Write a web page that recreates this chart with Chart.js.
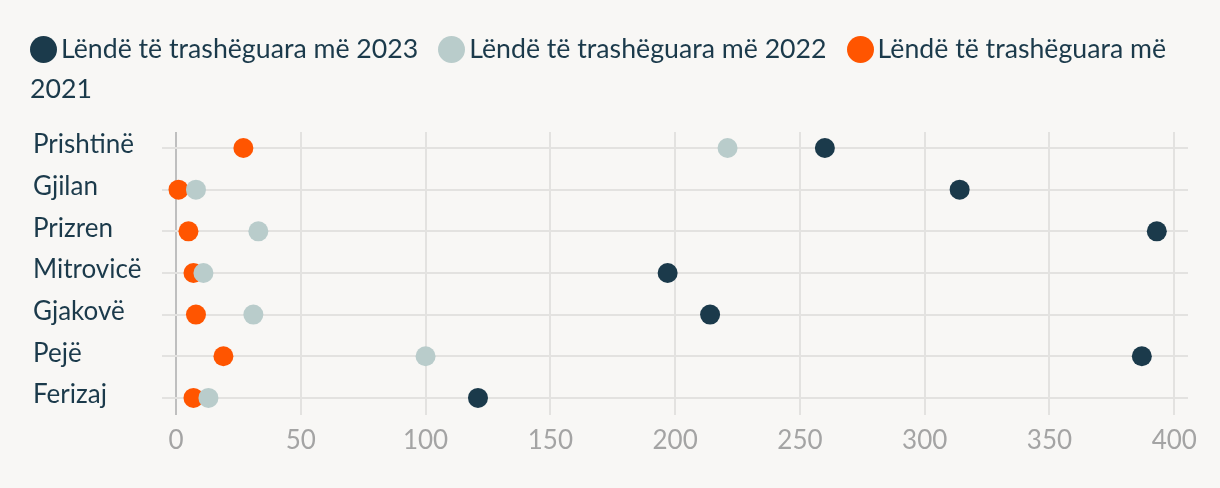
<!DOCTYPE html>
<html>
<head>
<meta charset="utf-8">
<script src="https://cdn.jsdelivr.net/npm/chart.js@4.4.1/dist/chart.umd.min.js"></script>
<style>
  html, body { margin: 0; padding: 0; background: #f8f7f5; }
  #wrap { position: relative; width: 1220px; height: 488px; }
  #legend {
    position: absolute; left: 30px; top: 28px; width: 1168px;
    font-family: Lato, sans-serif; font-size: 26.7px; line-height: 40px; color: #1b3a4b;
  }
  .item { margin-right: 20px; }
  .dot {
    display: inline-block; width: 27px; height: 27px; border-radius: 50%;
    vertical-align: -5px; margin-right: 4px;
  }
  canvas { position: absolute; left: 0; top: 0; }
</style>
</head>
<body>
<div id="wrap">
  <canvas id="chart" width="1220" height="488"></canvas>
  <div id="legend"></div>
</div>
<script>
const categories = ["Prishtinë", "Gjilan", "Prizren", "Mitrovicë", "Gjakovë", "Pejë", "Ferizaj"];

const seriesLabels = ["Lëndë të trashëguara më 2023", "Lëndë të trashëguara më 2022", "Lëndë të trashëguara më 2021"];

const values2023 = [260, 314, 393, 197, 214, 387, 121];

const values2022 = [221, 8, 33, 11, 31, 100, 13];

const values2021 = [27, 1, 5, 7, 8, 19, 7];

const xTicks = [0, 50, 100, 150, 200, 250, 300, 350, 400];

const colors = ["#1b3a4b", "#b9cccb", "#ff5500"];

const textColor = "#1b3a4b";
const gridColor = "#e3e2e0";

function points(values) {
    return values.map((v, i) => ({ x: v, y: i }));
}

const datasets = [values2023, values2022, values2021].map((values, i) => ({
    label: seriesLabels[i],
    data: points(values),
    backgroundColor: colors[i],
    borderWidth: 0,
    pointRadius: 10,
    pointHoverRadius: 10,
    clip: false
}));

const chart = new Chart(document.getElementById("chart"), {
    type: "scatter",
    data: { datasets: datasets },
    options: {
        responsive: false,
        animation: false,
        devicePixelRatio: 1,
        layout: { padding: { left: 33, top: 132, right: 32, bottom: 0 } },
        plugins: { legend: { display: false }, tooltip: { enabled: false } },
        scales: {
            x: {
                type: "linear",
                min: 0,
                max: 405.5,
                afterBuildTicks: s => { s.ticks = xTicks.map(v => ({ value: v })); },
                afterFit: s => { s.height = 73; },
                border: { display: false },
                grid: {
                    color: ctx => (ctx.tick && ctx.tick.value === 0) ? "#bfbfbf" : gridColor,
                    lineWidth: 2,
                    drawTicks: false
                },
                ticks: {
                    color: "#a4a4a4",
                    padding: 10,
                    font: { family: "Lato", size: 26 }
                }
            },
            y: {
                type: "linear",
                reverse: true,
                min: -0.384,
                max: 6.41,
                afterBuildTicks: s => { s.ticks = categories.map((c, i) => ({ value: i })); },
                afterFit: s => { s.width = 143; },
                border: { display: false },
                grid: { color: gridColor, lineWidth: 2, tickLength: 14 },
                ticks: {
                    color: textColor,
                    crossAlign: "far",
                    labelOffset: -3,
                    font: { family: "Lato", size: 26 },
                    callback: v => categories[v]
                }
            }
        }
    }
});

// html legend, so the last label can wrap like the original
const legend = document.getElementById("legend");
datasets.forEach(ds => {
    const item = document.createElement("span");
    item.className = "item";
    const dot = document.createElement("span");
    dot.className = "dot";
    dot.style.background = ds.backgroundColor;
    item.appendChild(dot);
    item.appendChild(document.createTextNode(ds.label));
    legend.appendChild(item);
});
</script>
</body>
</html>
